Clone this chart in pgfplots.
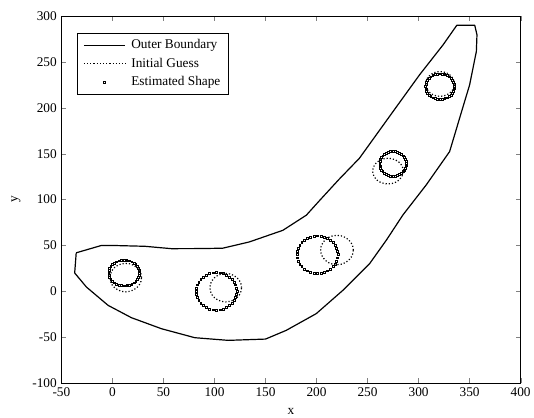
\documentclass[border=0pt]{standalone}
\usepackage{fontspec}
\setmainfont{Liberation Serif}
\usepackage{pgfplots}
\pgfplotsset{compat=1.18}
\begin{document}
\begin{tikzpicture}
\begin{axis}[
  scale only axis, width=344bp, height=275bp,
  xmin=-50, xmax=400, ymin=-100, ymax=300,
  xtick={-50,0,...,400}, ytick={-100,-50,...,300},
  tick align=inside, xtick pos=both, ytick pos=both,
  major tick length=3.6bp,
  /pgf/number format/assume math mode=true,
  ticklabel style={font=\fontsize{10}{12}\selectfont},
  xlabel={x}, ylabel={y},
  xlabel style={at={(axis description cs:0.5,-0.068)}, anchor=north, inner sep=0pt, font=\fontsize{10}{12}\selectfont},
  ylabel style={at={(axis description cs:-0.099,0.5)}, anchor=center, font=\fontsize{10}{12}\selectfont},
  axis line style={black, line width=0.6pt},
  legend style={at={(0.035,0.955)}, anchor=north west, draw=black, line width=0.6pt,
    font=\fontsize{10}{12}\selectfont, cells={anchor=west}, inner xsep=4pt, inner ysep=3pt,
    row sep=1.5pt, column sep=2pt},
  legend image code/.code={\draw[mark repeat=2,mark phase=2,#1] plot coordinates {(0cm,0cm) (0.55cm,0cm) (1.1cm,0cm)};},
]
% Outer boundary
\addplot[black, line width=0.9pt, line join=round] coordinates {
(-35.5,42) (-10.8,50) (0,50) (31.7,49.1) (57.8,46.5) (85,46.6) (108,47) (134,53.8) (167,66.5) (190,83) (203,99) (222,122) (242,145) (275,196) (301,236) (324,268.6) (337.5,290) (355,290) (357.2,279.5) (356.6,261.4) (350,225) (340.2,188.7) (330.4,152.3) (307.5,116) (284.6,83.2) (268.3,55.6) (252,30.2) (225.8,1.1) (199.7,-24.3) (170.3,-42.5) (150,-52) (113.4,-53.4) (80.7,-50.5) (48,-40.7) (18.6,-28.7) (-4.2,-15.3) (-25.5,4.7) (-37,20) (-36.3,30.2) (-35.5,42)
};
\addlegendentry{Outer Boundary}
% Initial guesses
\addplot[black, line width=0.9pt, dash pattern=on 0.9pt off 1.5pt] coordinates {
(28.5,15) (27.97,19.01) (26.42,22.75) (23.96,25.96) (20.75,28.42) (17.01,29.97)
(13,30.5) (8.99,29.97) (5.25,28.42) (2.04,25.96) (-0.42,22.75) (-1.97,19.01)
(-2.5,15) (-1.97,10.99) (-0.42,7.25) (2.04,4.04) (5.25,1.58) (8.99,0.03)
(13,-0.5) (17.01,0.03) (20.75,1.58) (23.96,4.04) (26.42,7.25) (27.97,10.99) (28.5,15)
};
\addlegendentry{Initial Guess}
\addplot[black, line width=0.9pt, dash pattern=on 0.9pt off 1.5pt, forget plot] coordinates {
(126.5,4) (125.97,8.01) (124.42,11.75) (121.96,14.96) (118.75,17.42) (115.01,18.97)
(111,19.5) (106.99,18.97) (103.25,17.42) (100.04,14.96) (97.58,11.75) (96.03,8.01)
(95.5,4) (96.03,-0.01) (97.58,-3.75) (100.04,-6.96) (103.25,-9.42) (106.99,-10.97)
(111,-11.5) (115.01,-10.97) (118.75,-9.42) (121.96,-6.96) (124.42,-3.75) (125.97,-0.01) (126.5,4)
};
\addplot[black, line width=0.9pt, dash pattern=on 0.9pt off 1.5pt, forget plot] coordinates {
(236,45) (235.46,49.14) (233.86,53) (231.31,56.31) (228,58.86) (224.14,60.46)
(220,61) (215.86,60.46) (212,58.86) (208.69,56.31) (206.14,53) (204.54,49.14)
(204,45) (204.54,40.86) (206.14,37) (208.69,33.69) (212,31.14) (215.86,29.54)
(220,29) (224.14,29.54) (228,31.14) (231.31,33.69) (233.86,37) (235.46,40.86) (236,45)
};
\addplot[black, line width=0.9pt, dash pattern=on 0.9pt off 1.5pt, forget plot] coordinates {
(285,131) (284.49,134.63) (282.99,138) (280.61,140.9) (277.5,143.12) (273.89,144.52)
(270,145) (266.11,144.52) (262.5,143.12) (259.39,140.9) (257.01,138) (255.51,134.63)
(255,131) (255.51,127.37) (257.01,124) (259.39,121.1) (262.5,118.88) (266.11,117.48)
(270,117) (273.89,117.48) (277.5,118.88) (280.61,121.1) (282.99,124) (284.49,127.37) (285,131)
};
\addplot[black, line width=0.9pt, dash pattern=on 0.9pt off 1.5pt, forget plot] coordinates {
(335,226) (334.52,229.5) (333.12,232.75) (330.9,235.54) (328,237.69) (324.63,239.04)
(321,239.5) (317.37,239.04) (314,237.69) (311.1,235.54) (308.88,232.75) (307.48,229.5)
(307,226) (307.48,222.5) (308.88,219.25) (311.1,216.46) (314,214.31) (317.37,212.96)
(321,212.5) (324.63,212.96) (328,214.31) (330.9,216.46) (333.12,219.25) (334.52,222.5) (335,226)
};
% Estimated shapes
\addplot[black, only marks, mark=square, mark size=0.7pt, mark options={line width=0.55pt}] coordinates {
(26.5,20) (26.3,22.4) (25.6,24.8) (24.5,27) (23.0,29.0) (21.1,30.7) (19.0,32.1) (16.6,33.2) (14.1,33.8)
(11.5,34) (8.9,33.8) (6.4,33.2) (4.0,32.1) (1.9,30.7) (0.0,29.0) (-1.5,27) (-2.6,24.8) (-3.3,22.4)
(-3.5,20) (-3.3,17.6) (-2.6,15.2) (-1.5,13) (0.0,11.0) (1.9,9.3) (4.0,7.9) (6.4,6.8) (8.9,6.2)
(11.5,6) (14.1,6.2) (16.6,6.8) (19.0,7.9) (21.1,9.3) (23.0,11.0) (24.5,13) (25.6,15.2) (26.3,17.6)
};
\addlegendentry{Estimated Shape}
\addplot[black, only marks, mark=square, mark size=0.7pt, mark options={line width=0.55pt}, forget plot] coordinates {
(122,0) (121.7,3.57) (120.8,7.01) (119.32,10.25) (117.32,13.18) (114.86,15.7) (112,17.75) (108.84,19.27) (105.48,20.19)
(102,20.5) (98.52,20.19) (95.16,19.27) (92,17.75) (89.14,15.7) (86.68,13.18) (84.68,10.25) (83.2,7.01) (82.3,3.57)
(82,0) (82.3,-3.57) (83.2,-7.01) (84.68,-10.25) (86.68,-13.18) (89.14,-15.7) (92,-17.75) (95.16,-19.27) (98.52,-20.19)
(102,-20.5) (105.48,-20.19) (108.84,-19.27) (112,-17.75) (114.86,-15.7) (117.32,-13.18) (119.32,-10.25) (120.8,-7.01) (121.7,-3.57)
};
\addplot[black, only marks, mark=square, mark size=0.7pt, mark options={line width=0.55pt}, forget plot] coordinates {
(221,40) (220.7,43.57) (219.8,47.01) (218.32,50.25) (216.32,53.18) (213.86,55.7) (211,57.75) (207.84,59.27) (204.48,60.19)
(201,60.5) (197.52,60.19) (194.16,59.27) (191,57.75) (188.14,55.7) (185.68,53.18) (183.68,50.25) (182.2,47.01) (181.3,43.57)
(181,40) (181.3,36.43) (182.2,32.99) (183.68,29.75) (185.68,26.82) (188.14,24.3) (191,22.25) (194.16,20.73) (197.52,19.81)
(201,19.5) (204.48,19.81) (207.84,20.73) (211,22.25) (213.86,24.3) (216.32,26.82) (218.32,29.75) (219.8,32.99) (220.7,36.43)
};
\addplot[black, only marks, mark=square, mark size=0.7pt, mark options={line width=0.55pt}, forget plot] coordinates {
(288,139) (287.8,141.35) (287.22,143.62) (286.26,145.75) (284.96,147.68) (283.36,149.34) (281.5,150.69) (279.45,151.69) (277.26,152.3)
(275,152.5) (272.74,152.3) (270.55,151.69) (268.5,150.69) (266.64,149.34) (265.04,147.68) (263.74,145.75) (262.78,143.62) (262.2,141.35)
(262,139) (262.2,136.65) (262.78,134.38) (263.74,132.25) (265.04,130.32) (266.64,128.66) (268.5,127.31) (270.55,126.31) (272.74,125.7)
(275,125.5) (277.26,125.7) (279.45,126.31) (281.5,127.31) (283.36,128.66) (284.96,130.32) (286.26,132.25) (287.22,134.38) (287.8,136.65)
};
\addplot[black, only marks, mark=square, mark size=0.7pt, mark options={line width=0.55pt}, forget plot] coordinates {
(335,223) (334.79,225.44) (334.16,227.79) (333.12,230) (331.72,232) (330,233.72) (328,235.12) (325.79,236.16) (323.44,236.79)
(321,237) (318.56,236.79) (316.21,236.16) (314,235.12) (312,233.72) (310.28,232) (308.88,230) (307.84,227.79) (307.21,225.44)
(307,223) (307.21,220.56) (307.84,218.21) (308.88,216) (310.28,214) (312,212.28) (314,210.88) (316.21,209.84) (318.56,209.21)
(321,209) (323.44,209.21) (325.79,209.84) (328,210.88) (330,212.28) (331.72,214) (333.12,216) (334.16,218.21) (334.79,220.56)
};
\end{axis}
\pgfresetboundingbox
\useasboundingbox ([shift={(-46bp,-26bp)}]current axis.south west) rectangle ([shift={(10bp,12bp)}]current axis.north east);
\end{tikzpicture}
\end{document}
